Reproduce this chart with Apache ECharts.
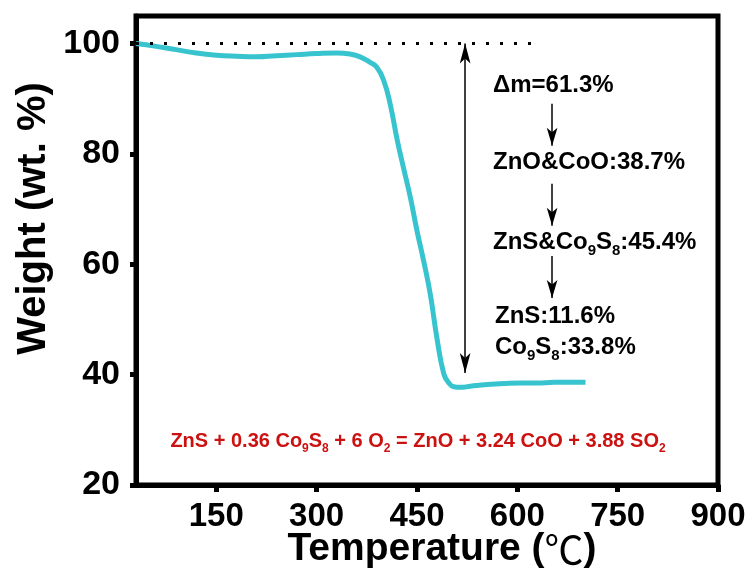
<!DOCTYPE html>
<html>
<head>
<meta charset="utf-8">
<script src="https://cdn.jsdelivr.net/npm/echarts@6/dist/echarts.min.js"></script>
<style>
  html, body { margin: 0; padding: 0; background: #fff; }
  #tga { width: 750px; height: 571px; }
</style>
</head>
<body>
<div id="tga"></div>
<script>
// TGA curve
var temps = [30, 60, 90, 120, 150, 180, 210, 240, 270, 300, 330, 350, 365, 380, 390, 400, 410, 420, 430, 440, 450, 460, 470, 480, 490, 497, 505, 515, 530, 555, 580, 605, 630, 655, 680, 702];
var weights = [100.0, 99.5, 98.9, 98.3, 97.9, 97.7, 97.6, 97.8, 98.0, 98.2, 98.3, 98.1, 97.6, 96.6, 95.7, 93.4, 89.0, 82.8, 77.4, 72.2, 66.1, 60.6, 54.5, 46.5, 40.2, 38.6, 37.8, 37.7, 37.9, 38.2, 38.4, 38.5, 38.5, 38.6, 38.6, 38.6];

var xTicks = [150, 300, 450, 600, 750, 900];
var yTicks = [20, 40, 60, 80, 100];

// annotation lines (data coords)
var refLine = [[30, 100], [632, 100]];          // dotted 100 % line
var deltaArrow = [[522, 100], [522, 40.3]];     // double arrow
var stepArrows = [                               // small arrows between labels
    [[652, 89.1], [652, 81.5]],
    [[652, 74.6], [652, 67.0]],
    [[652, 61.5], [652, 53.9]]
];

var FONT = "'Liberation Sans', Arial, 'Noto Sans CJK SC', sans-serif";

var chart = echarts.init(document.getElementById('tga'), null, { renderer: 'canvas' });

var markData = [];
markData.push([
    { coord: refLine[0], symbol: 'none', lineStyle: { type: [3, 11], width: 3, color: '#000' } },
    { coord: refLine[1], symbol: 'none' }
]);
markData.push([
    { coord: deltaArrow[0], symbol: 'arrow', symbolSize: [8, 20], lineStyle: { type: 'solid', width: 1.5, color: '#000' } },
    { coord: deltaArrow[1], symbol: 'arrow', symbolSize: [8, 20] }
]);
stepArrows.forEach(function (a) {
    markData.push([
        { coord: a[0], symbol: 'none', lineStyle: { type: 'solid', width: 1.5, color: '#000' } },
        { coord: a[1], symbol: 'arrow', symbolSize: [8, 18] }
    ]);
});

function txt(x, y, text, opts) {
    opts = opts || {};
    var size = opts.size || 24;
    return {
        type: 'text',
        x: x,
        y: y,
        silent: true,
        style: {
            text: text,
            fill: opts.color || '#000',
            fontSize: size,
            fontWeight: 'bold',
            fontFamily: FONT,
            align: opts.align || 'left',
            verticalAlign: 'middle',
            rich: {
                s: { fontSize: Math.round(size * 0.62), fontWeight: 'bold', fontFamily: FONT, padding: [Math.round(size * 0.75), 0, 0, 0] }
            }
        }
    };
}

var option = {
    animation: false,
    backgroundColor: '#fff',
    grid: {
        left: 136, right: 32, top: 16, bottom: 86,
        outerBoundsMode: 'none',
        show: true, borderColor: '#000', borderWidth: 5
    },
    xAxis: {
        type: 'value',
        min: 30, max: 900,
        name: 'Temperature ({c|℃})',
        nameLocation: 'middle',
        nameGap: 45,
        nameMoveOverlap: false,
        nameTextStyle: {
            fontSize: 39, fontWeight: 'bold', fontFamily: FONT, color: '#000', padding: [0, 0, 0, 30],
            rich: { c: { fontSize: 39, fontWeight: 'normal', fontFamily: "'Noto Sans CJK SC', sans-serif", color: '#000' } }
        },
        splitLine: { show: false },
        axisLine: { lineStyle: { color: '#000', width: 5 } },
        axisTick: { customValues: xTicks, length: 7, lineStyle: { width: 5, color: '#000' } },
        axisLabel: { customValues: xTicks, fontSize: 33, fontWeight: 'bold', fontFamily: FONT, color: '#000', margin: 15 }
    },
    yAxis: {
        type: 'value',
        min: 20, max: 105,
        name: 'Weight (wt. %)',
        nameLocation: 'middle',
        nameGap: 82,
        nameMoveOverlap: false,
        nameTextStyle: { fontSize: 40, fontWeight: 'bold', fontFamily: FONT, color: '#000', padding: [0, 0, 0, 64] },
        splitLine: { show: false },
        axisLine: { show: true, lineStyle: { color: '#000', width: 5 } },
        axisTick: { customValues: yTicks, length: 6, lineStyle: { width: 5, color: '#000' } },
        axisLabel: { customValues: yTicks, fontSize: 34, fontWeight: 'bold', fontFamily: FONT, color: '#000', margin: 16 }
    },
    series: [{
        type: 'line',
        data: temps.map(function (t, i) { return [t, weights[i]]; }),
        smooth: 0.5,
        showSymbol: false,
        lineStyle: { color: '#38c4cf', width: 5 },
        itemStyle: { color: '#38c4cf' },
        silent: true,
        markLine: {
            silent: true,
            animation: false,
            label: { show: false },
            emphasis: { disabled: true },
            data: markData
        }
    }],
    graphic: [
        txt(493, 85, 'Δm=61.3%'),
        txt(493, 162, 'ZnO&CoO:38.7%'),
        txt(493, 242, 'ZnS&Co{s|9}S{s|8}:45.4%'),
        txt(495, 316, 'ZnS:11.6%'),
        txt(495, 347, 'Co{s|9}S{s|8}:33.8%'),
        txt(418, 441, 'ZnS + 0.36 Co{s|9}S{s|8} + 6 O{s|2} = ZnO + 3.24 CoO + 3.88 SO{s|2}', { size: 20, color: '#cc1111', align: 'center' })
    ]
};

chart.setOption(option);
</script>
</body>
</html>
